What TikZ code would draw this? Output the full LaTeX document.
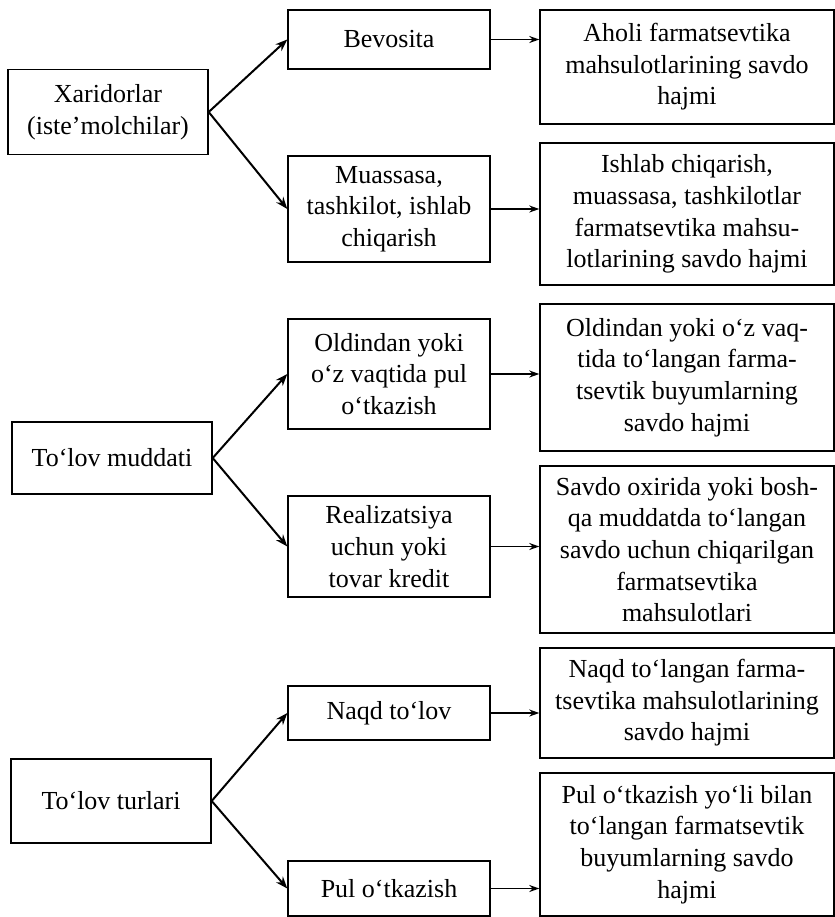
\documentclass[tikz,border=0pt]{standalone}
\usepackage{fontspec}
\setmainfont{Liberation Serif}
\usetikzlibrary{arrows.meta}
\tikzset{
  box/.style= {draw, line width=0.7pt, align=center, inner sep=2pt,
    font=\fontsize{13}{15.8}\selectfont},
  lnode/.style= {box, minimum width=100pt},
  mnode/.style= {box, minimum width=101pt},
  rnode/.style= {box, minimum width=147pt},
  darrow/.style= {line width=1pt, -{Stealth[length=6pt,width=4.5pt]}},
  harrow/.style= {line width=0.7pt, -{Stealth[length=5pt,width=3.5pt]}},
}

\begin{document}
\begin{tikzpicture}[x=0.5pt, y=-0.5pt]
  \useasboundingbox (0,0) rectangle (835,917);
  % left column
  \node [lnode, minimum height=42.5pt] (xar) at (108,112) {Xaridorlar\\(iste’molchilar)} ;
  \node [lnode, minimum height=36pt] (mud) at (112,458) {To‘lov muddati} ;
  \node [lnode, minimum height=42pt] (tur) at (111,801) {To‘lov turlari} ;
  % middle column
  \node [mnode, minimum height=29.5pt] (bev) at (389,39.5) {Bevosita} ;
  \node [mnode, minimum height=53pt] (mua) at (389,209) {Muassasa,\\tashkilot, ishlab\\chiqarish} ;
  \node [mnode, minimum height=55pt] (old) at (389,374) {Oldindan yoki\\o‘z vaqtida pul\\o‘tkazish} ;
  \node [mnode, minimum height=50.5pt] (rea) at (389,546.5) {Realizatsiya\\uchun yoki\\tovar kredit} ;
  \node [mnode, minimum height=27pt] (naq) at (389,713) {Naqd to‘lov} ;
  \node [mnode, minimum height=27.5pt] (pul) at (389,888.5) {Pul o‘tkazish} ;
  % right column
  \node [rnode, minimum height=57pt] (aho) at (687,67) {Aholi farmatsevtika\\mahsulotlarining savdo\\hajmi} ;
  \node [rnode, minimum height=71pt] (ish) at (687,214) {Ishlab chiqarish,\\muassasa, tashkilotlar\\farmatsevtika mahsu-\\lotlarining savdo hajmi} ;
  \node [rnode, minimum height=73.5pt] (oldh) at (687,377.5) {Oldindan yoki o‘z vaq-\\tida to‘langan farma-\\tsevtik buyumlarning\\savdo hajmi} ;
  \node [rnode, minimum height=83.5pt] (sav) at (687,549.5) {Savdo oxirida yoki bosh-\\qa muddatda to‘langan\\savdo uchun chiqarilgan\\farmatsevtika\\mahsulotlari} ;
  \node [rnode, minimum height=55pt] (naqh) at (687,703) {Naqd to‘langan farma-\\tsevtika mahsulotlarining\\savdo hajmi} ;
  \node [rnode, minimum height=71.5pt] (pulh) at (687,844.5) {Pul o‘tkazish yo‘li bilan\\to‘langan farmatsevtik\\buyumlarning savdo\\hajmi} ;

  \foreach \l/\m in {xar/bev, xar/mua, mud/old, mud/rea, tur/naq, tur/pul}
    \draw [darrow] (\l.east) -- (\m.west) ;
  \foreach \m/\r in {bev/aho, mua/ish, old/oldh, rea/sav, naq/naqh, pul/pulh}
    \draw [harrow] (\m.east) -- (\m.east -| \r.west) ;
\end{tikzpicture}
\end{document}
